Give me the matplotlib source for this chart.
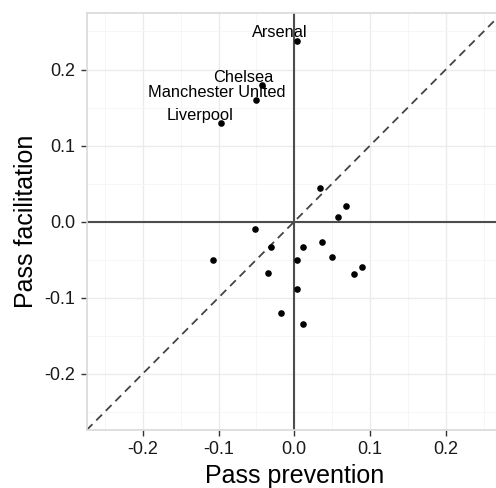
import numpy as np
import matplotlib
matplotlib.use('Agg')
import matplotlib.pyplot as plt
from matplotlib.ticker import MultipleLocator

plt.rcParams['font.family'] = ['Liberation Sans', 'DejaVu Sans']

# Pass prevention vs pass facilitation per team
prevention = [0.003, -0.042, -0.050, -0.097,
              0.034, 0.068, 0.058, -0.052, -0.031, 0.012, 0.036, -0.107,
              0.003, 0.050, -0.035, 0.090, 0.079, 0.004, -0.017, 0.011]
facilitation = [0.237, 0.179, 0.160, 0.129,
                0.044, 0.020, 0.006, -0.010, -0.033, -0.033, -0.027, -0.050,
                -0.051, -0.047, -0.067, -0.060, -0.069, -0.088, -0.120, -0.134]

# labelled teams (first four points) and their text nudges
labels = ['Arsenal', 'Chelsea', 'Manchester United', 'Liverpool']
label_dx = [0.015, 0.014, 0.038, 0.017]
label_dy = [0.006, 0.005, 0.004, 0.004]

lim = 0.274

fig = plt.figure(figsize=(4.96, 4.88), dpi=100)
ax = fig.add_axes([0.1748, 0.1189, 0.837, 0.854])

ax.set_xlim(-lim, lim)
ax.set_ylim(-lim, lim)
ax.xaxis.set_major_locator(MultipleLocator(0.1))
ax.yaxis.set_major_locator(MultipleLocator(0.1))
ax.xaxis.set_minor_locator(MultipleLocator(0.05))
ax.yaxis.set_minor_locator(MultipleLocator(0.05))
ax.grid(which='major', color='#ebebeb', linewidth=1.0)
ax.grid(which='minor', color='#f5f5f5', linewidth=0.6)
ax.set_axisbelow(True)

for s in ax.spines.values():
    s.set_color('#d9d9d9')
    s.set_linewidth(1.2)

ax.axhline(0, color='#4d4d4d', linewidth=1.5, zorder=2)
ax.axvline(0, color='#4d4d4d', linewidth=1.5, zorder=2)
ax.plot([-lim, lim], [-lim, lim], color='#444444', linestyle=(0, (4.5, 3)),
        linewidth=1.3, zorder=2)

ax.scatter(prevention, facilitation, s=14, color='black', zorder=3)

for name, x, y, dx, dy in zip(labels, prevention, facilitation, label_dx, label_dy):
    ax.text(x + dx, y + dy, name, ha='right', va='baseline', fontsize=11.8,
            color='black', zorder=4)

ax.tick_params(which='major', length=4, width=1, color='#333333',
               labelsize=13, labelcolor='#1a1a1a', pad=4)
ax.tick_params(which='minor', length=0)
ax.xaxis.set_major_formatter(matplotlib.ticker.FuncFormatter(lambda v, p: f'{v:.1f}'))
ax.yaxis.set_major_formatter(matplotlib.ticker.FuncFormatter(lambda v, p: f'{v:.1f}'))

ax.set_xlabel('Pass prevention', fontsize=18, labelpad=4)
ax.set_ylabel('Pass facilitation', fontsize=18, labelpad=5)

fig.savefig('out.png', dpi=100)
plt.close(fig)
